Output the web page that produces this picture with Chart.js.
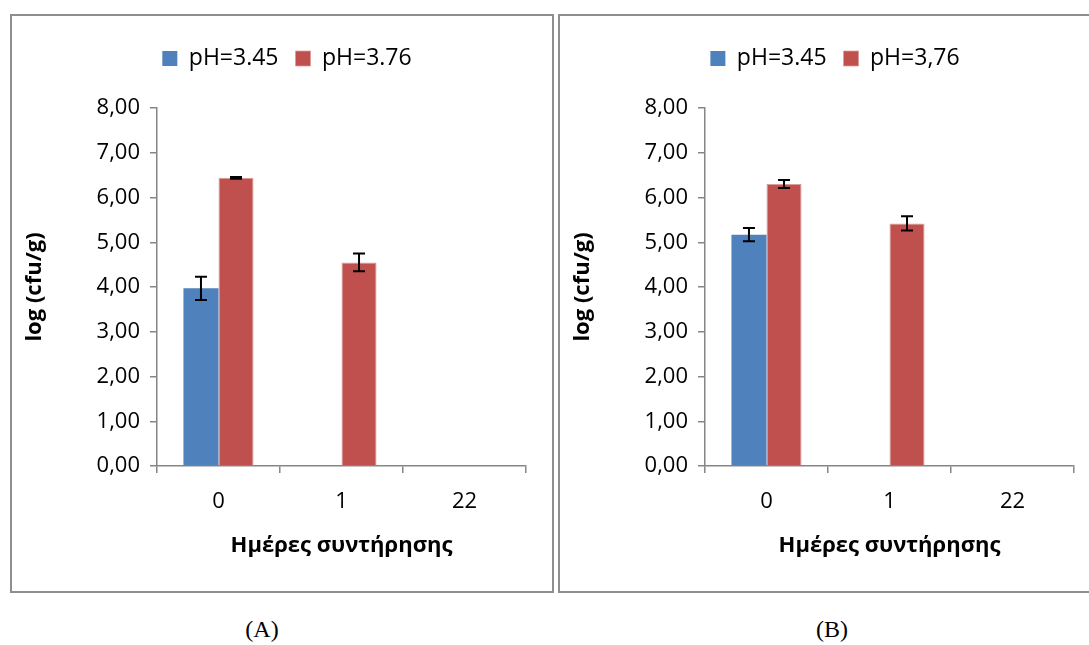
<!DOCTYPE html>
<html>
<head>
<meta charset="utf-8">
<script src="https://cdn.jsdelivr.net/npm/chart.js@4"></script>
<style>
  body { margin: 0; background: #fff; width: 1089px; height: 645px; overflow: hidden; position: relative; }
  .panel { position: absolute; top: 14px; width: 540px; height: 575px; border: 2px solid #8e8e8e; background: #fff; }
  .panel canvas { display: block; }
  .cap { position: absolute; top: 616px; font-family: "Liberation Serif", serif; font-size: 24px; color: #000; transform: translateX(-50%); }
</style>
</head>
<body>
<div class="panel" style="left:10px"><canvas id="chartA" width="540" height="575"></canvas></div>
<div class="panel" style="left:558px"><canvas id="chartB" width="540" height="575"></canvas></div>
<div class="cap" style="left:262px">(A)</div>
<div class="cap" style="left:832px">(B)</div>
<script>
const days = ['0', '1', '22'];
const yTickLabels = ['0,00', '1,00', '2,00', '3,00', '4,00', '5,00', '6,00', '7,00', '8,00'];

const namesA = ['pH=3.45', 'pH=3.76'];
const lowA = [3.97, 0, 0];
const lowErrA = [0.26, 0, 0];
const highA = [6.44, 4.55, 0];
const highErrA = [0.02, 0.20, 0];

const namesB = ['pH=3.45', 'pH=3,76'];
const lowB = [5.17, 0, 0];
const lowErrB = [0.15, 0, 0];
const highB = [6.30, 5.42, 0];
const highErrB = [0.09, 0.16, 0];

const FONT = '"Open Sans", "Noto Sans", sans-serif';
const AXIS = '#868686';

// draws black error bars from the errors array of each dataset
const errorBars = {
    id: 'errorBars',
    afterDatasetsDraw(chart) {
        const ctx = chart.ctx;
        const y = chart.scales.y;
        ctx.save();
        ctx.strokeStyle = '#000';
        ctx.lineWidth = 2;
        chart.data.datasets.forEach((ds, i) => {
            const meta = chart.getDatasetMeta(i);
            meta.data.forEach((bar, j) => {
                const err = ds.errors[j];
                if (!err) return;
                const v = ds.data[j];
                const top = y.getPixelForValue(v + err);
                const bot = y.getPixelForValue(v - err);
                const x = bar.x;
                ctx.beginPath();
                ctx.moveTo(x, top); ctx.lineTo(x, bot);
                ctx.moveTo(x - 6, top); ctx.lineTo(x + 6, top);
                ctx.moveTo(x - 6, bot); ctx.lineTo(x + 6, bot);
                ctx.stroke();
            });
        });
        ctx.restore();
    }
};

// extra room under the legend, and legend nudged right like the original
const legendGap = {
    id: 'legendGap',
    beforeInit(chart) {
        const fit = chart.legend.fit;
        chart.legend.fit = function () {
            fit.bind(chart.legend)();
            this.height += 28;
        };
    },
    afterLayout(chart) {
        chart.legend.left += 13;
        chart.legend.right += 13;
    }
};

function makeChart(id, names, low, lowErr, high, highErr) {
    new Chart(document.getElementById(id), {
        type: 'bar',
        data: {
            labels: days,
            datasets: [{
                label: names[0],
                data: low,
                errors: lowErr,
                backgroundColor: '#4F81BD',
                borderWidth: 0
            }, {
                label: names[1],
                data: high,
                errors: highErr,
                backgroundColor: '#C0504D',
                borderColor: '#dc9c9a',
                borderWidth: { top: 1, left: 1, right: 1, bottom: 0 }
            }]
        },
        options: {
            responsive: false,
            animation: false,
            categoryPercentage: 0.57,
            barPercentage: 1.0,
            layout: { padding: { left: 10, right: 26, top: 14, bottom: 32 } },
            plugins: {
                legend: {
                    position: 'top',
                    labels: {
                        boxWidth: 15, boxHeight: 15, padding: 17,
                        color: '#000',
                        font: { family: FONT, size: 23 }
                    }
                },
                tooltip: { enabled: false }
            },
            scales: {
                x: {
                    afterFit: s => { s.height = 93; },
                    grid: { drawOnChartArea: false, drawTicks: true, tickLength: 7, color: AXIS, lineWidth: 1.5, offset: true },
                    border: { color: AXIS, width: 1.5 },
                    ticks: { color: '#000', padding: 16, font: { family: FONT, size: 22 } },
                    title: {
                        display: true, text: 'Ημέρες συντήρησης', color: '#000',
                        font: { family: FONT, size: 22, weight: 'bold' }, padding: { top: 0, bottom: 0 }
                    }
                },
                y: {
                    min: 0, max: 8,
                    afterFit: s => { s.width = 135; },
                    grid: { drawOnChartArea: false, drawTicks: true, tickLength: 7, color: AXIS, lineWidth: 1.5 },
                    border: { color: AXIS, width: 1.5 },
                    ticks: {
                        stepSize: 1, color: '#000', padding: 10,
                        font: { family: FONT, size: 22 },
                        callback: (v, i) => yTickLabels[i]
                    },
                    title: {
                        display: true, text: 'log (cfu/g)', color: '#000',
                        font: { family: FONT, size: 22, weight: 'bold' }, padding: 0
                    }
                }
            }
        },
        plugins: [errorBars, legendGap]
    });
}

makeChart('chartA', namesA, lowA, lowErrA, highA, highErrA);
makeChart('chartB', namesB, lowB, lowErrB, highB, highErrB);
</script>
</body>
</html>
